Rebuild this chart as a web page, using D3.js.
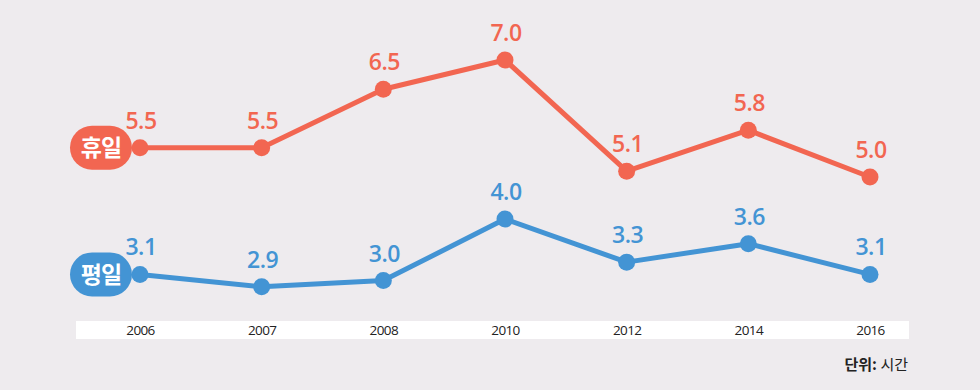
<!DOCTYPE html>
<html>
<head>
<meta charset="utf-8">
<script src="https://cdn.jsdelivr.net/npm/d3@7"></script>
<style>
  html, body { margin: 0; padding: 0; background: #eeebee; }
  svg { display: block; font-family: "Noto Sans CJK KR", "Noto Sans", sans-serif; }
</style>
</head>
<body>
<svg id="chart" width="980" height="390"></svg>
<script>
// data
const years = ["2006", "2007", "2008", "2010", "2012", "2014", "2016"];
const holiday = [5.5, 5.5, 6.5, 7.0, 5.1, 5.8, 5.0];
const weekday = [3.1, 2.9, 3.0, 4.0, 3.3, 3.6, 3.1];

const orange = "#f26651";
const blue = "#4394d4";

const svg = d3.select("svg#chart");

// x scale, points spread over the white band
const x = d3.scalePoint()
    .domain(years)
    .range([140, 870]);

// each series sits in its own band of the picture
const yHoliday = d3.scaleLinear().domain([5, 7]).range([177, 60]);
const yWeekday = d3.scaleLinear().domain([3, 4]).range([280.6, 219.1]);

// axis band
svg.append("rect")
    .attr("x", 76)
    .attr("y", 321)
    .attr("width", 833)
    .attr("height", 18)
    .attr("fill", "#fff");

const xAxis = svg.append("g")
    .attr("transform", "translate(0,321)")
    .call(d3.axisBottom(x).tickSize(0).tickPadding(0));
xAxis.select(".domain").remove();
xAxis.selectAll("text")
    .attr("dy", null)
    .attr("y", 14)
    .attr("fill", "#222")
    .style("font-family", "'Open Sans', sans-serif")
    .style("font-size", "13.5px")
    .style("letter-spacing", "-0.6px");

function drawSeries(values, y, color, name) {
    const pts = values.map((v, i) => ({ year: years[i], v: v }));

    svg.append("path")
        .datum(pts)
        .attr("fill", "none")
        .attr("stroke", color)
        .attr("stroke-width", 5)
        .attr("stroke-linejoin", "round")
        .attr("d", d3.line().x(d => x(d.year)).y(d => y(d.v)));

    svg.selectAll(null)
        .data(pts)
        .enter()
        .append("circle")
        .attr("cx", d => x(d.year))
        .attr("cy", d => y(d.v))
        .attr("r", 8.5)
        .attr("fill", color);

    svg.selectAll(null)
        .data(pts)
        .enter()
        .append("text")
        .attr("x", d => x(d.year) + 1)
        .attr("y", d => y(d.v) - 19)
        .attr("text-anchor", "middle")
        .attr("fill", color)
        .style("font-family", "'Open Sans', sans-serif")
        .style("font-weight", "600")
        .style("font-size", "23px")
        .style("letter-spacing", "-0.5px")
        .text(d => d.v.toFixed(1));

    // name badge on the left of the first point
    const cy = y(values[0]);
    svg.append("rect")
        .attr("x", 70)
        .attr("y", cy - 22)
        .attr("width", 62)
        .attr("height", 44)
        .attr("rx", 22)
        .attr("fill", color);
    svg.append("text")
        .attr("x", 101)
        .attr("y", cy + 8.5)
        .attr("text-anchor", "middle")
        .attr("fill", "#fff")
        .style("font-weight", "700")
        .style("font-size", "23px")
        .style("letter-spacing", "-1px")
        .text(name);
}

drawSeries(holiday, yHoliday, orange, "휴일");
drawSeries(weekday, yWeekday, blue, "평일");

// unit note
const unit = svg.append("text")
    .attr("x", 908)
    .attr("y", 370)
    .attr("text-anchor", "end")
    .attr("fill", "#222")
    .style("font-size", "15px");
unit.append("tspan").style("font-weight", "700").text("단위: ");
unit.append("tspan").text("시간");
</script>
</body>
</html>
